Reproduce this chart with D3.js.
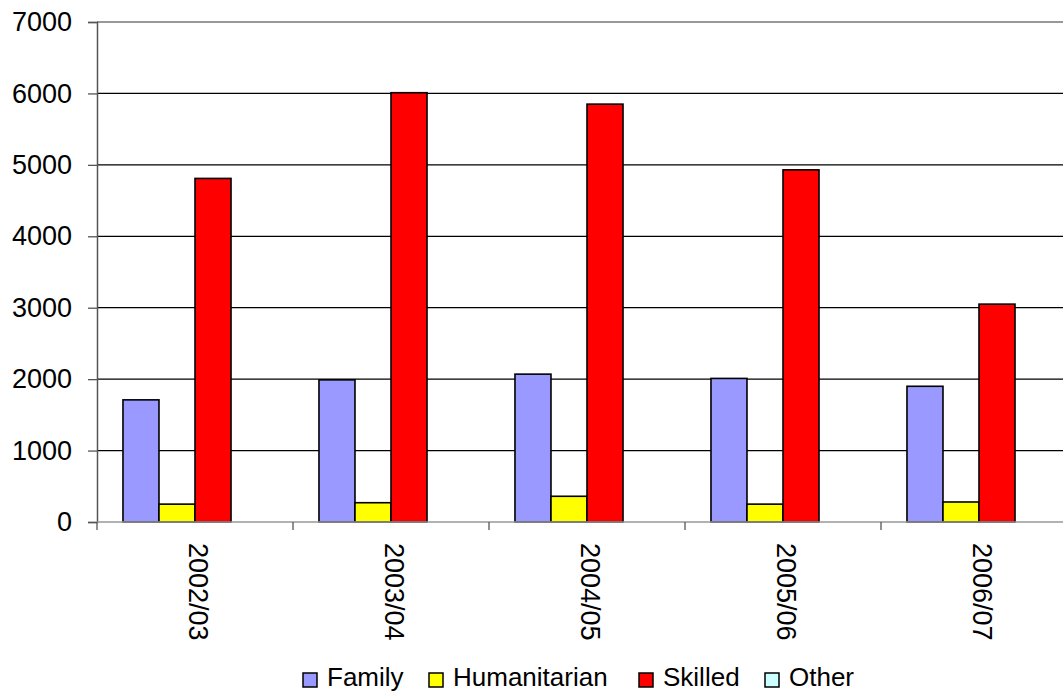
<!DOCTYPE html>
<html>
<head>
<meta charset="utf-8">
<script src="https://cdn.jsdelivr.net/npm/d3@7"></script>
<style>
body { margin: 0; background: #fff; }
svg { display: block; font-family: "Liberation Sans", Arial, sans-serif; }
</style>
</head>
<body>
<script>
var years = ["2002/03", "2003/04", "2004/05", "2005/06", "2006/07"];
var seriesNames = ["Family", "Humanitarian", "Skilled", "Other"];
var colors = ["#9999ff", "#ffff00", "#ff0000", "#ccffff"];
var family = [1710, 1990, 2070, 2010, 1900];
var humanitarian = [250, 270, 360, 250, 280];
var skilled = [4810, 6010, 5850, 4930, 3050];
var other = [0, 0, 0, 0, 0];
var yTicks = [0, 1000, 2000, 3000, 4000, 5000, 6000, 7000];

var width = 1063, height = 693;
var margin = {left: 97, top: 22};
var plotW = 980, plotH = 500;

var svg = d3.select("body").append("svg").attr("width", width).attr("height", height);
var g = svg.append("g").attr("transform", "translate(" + margin.left + "," + margin.top + ")");

var x0 = d3.scaleBand().domain(years).range([0, plotW]).paddingInner(0.265).paddingOuter(0.1325);
var x1 = d3.scaleBand().domain(seriesNames).range([0, x0.bandwidth()]);
var y = d3.scaleLinear().domain([0, 7000]).range([plotH, 0]);

// gridlines
g.selectAll("line.grid")
  .data(yTicks.slice(1, -1))
  .enter().append("line")
    .attr("class", "grid")
    .attr("x1", 0).attr("x2", plotW)
    .attr("y1", function(d){ return y(d); }).attr("y2", function(d){ return y(d); })
    .attr("stroke", "#000").attr("stroke-width", 1.3);

// top border of plot area
g.append("line").attr("x1", 0).attr("x2", plotW).attr("y1", 0).attr("y2", 0)
  .attr("stroke", "#999").attr("stroke-width", 2);

// bars
var data = [family, humanitarian, skilled, other];
var groups = g.selectAll("g.year")
  .data(years)
  .enter().append("g")
    .attr("transform", function(d){ return "translate(" + x0(d) + ",0)"; });

groups.selectAll("rect")
  .data(function(d, i){ return seriesNames.map(function(s, j){ return {s: s, v: data[j][i], c: colors[j]}; }); })
  .enter().append("rect")
    .attr("x", function(d){ return x1(d.s); })
    .attr("y", function(d){ return y(d.v); })
    .attr("width", x1.bandwidth())
    .attr("height", function(d){ return plotH - y(d.v); })
    .attr("fill", function(d){ return d.c; })
    .attr("stroke", "#000").attr("stroke-width", 1.6);

// y axis
var yAxis = g.append("g").call(d3.axisLeft(y).tickValues(yTicks).tickSize(9).tickPadding(16).tickFormat(d3.format("d")));
yAxis.select(".domain").attr("stroke", "#555").attr("stroke-width", 1.5);
yAxis.selectAll(".tick line").attr("stroke", "#555").attr("stroke-width", 1.3);
yAxis.selectAll("text").attr("font-size", 27).attr("fill", "#000").attr("font-family", "Liberation Sans, Arial, sans-serif");

// x axis
var xAxisG = g.append("g").attr("transform", "translate(0," + plotH + ")");
xAxisG.append("line").attr("x1", 0).attr("x2", plotW).attr("stroke", "#999").attr("stroke-width", 1.5);
var step = x0.step();
xAxisG.selectAll("line.tick")
  .data(d3.range(years.length + 1))
  .enter().append("line")
    .attr("x1", function(d){ return d * step; }).attr("x2", function(d){ return d * step; })
    .attr("y1", 0).attr("y2", 8)
    .attr("stroke", "#555").attr("stroke-width", 1.3);
xAxisG.selectAll("text")
  .data(years)
  .enter().append("text")
    .attr("transform", function(d){ return "translate(" + (x0(d) + x0.bandwidth() / 2 + 3) + ",21) rotate(90)"; })
    .attr("dominant-baseline", "central")
    .attr("font-size", 27)
    .text(function(d){ return d; });

// legend
var legendX = [303, 429, 639, 765];
var legend = svg.selectAll("g.legend")
  .data(seriesNames)
  .enter().append("g")
    .attr("transform", function(d, i){ return "translate(" + legendX[i] + ",673)"; });
legend.append("rect").attr("width", 14).attr("height", 14)
  .attr("fill", function(d, i){ return colors[i]; })
  .attr("stroke", "#000").attr("stroke-width", 1.5);
legend.append("text").attr("x", 24).attr("y", 13)
  .attr("font-size", 26)
  .text(function(d){ return d; });
</script>
</body>
</html>
